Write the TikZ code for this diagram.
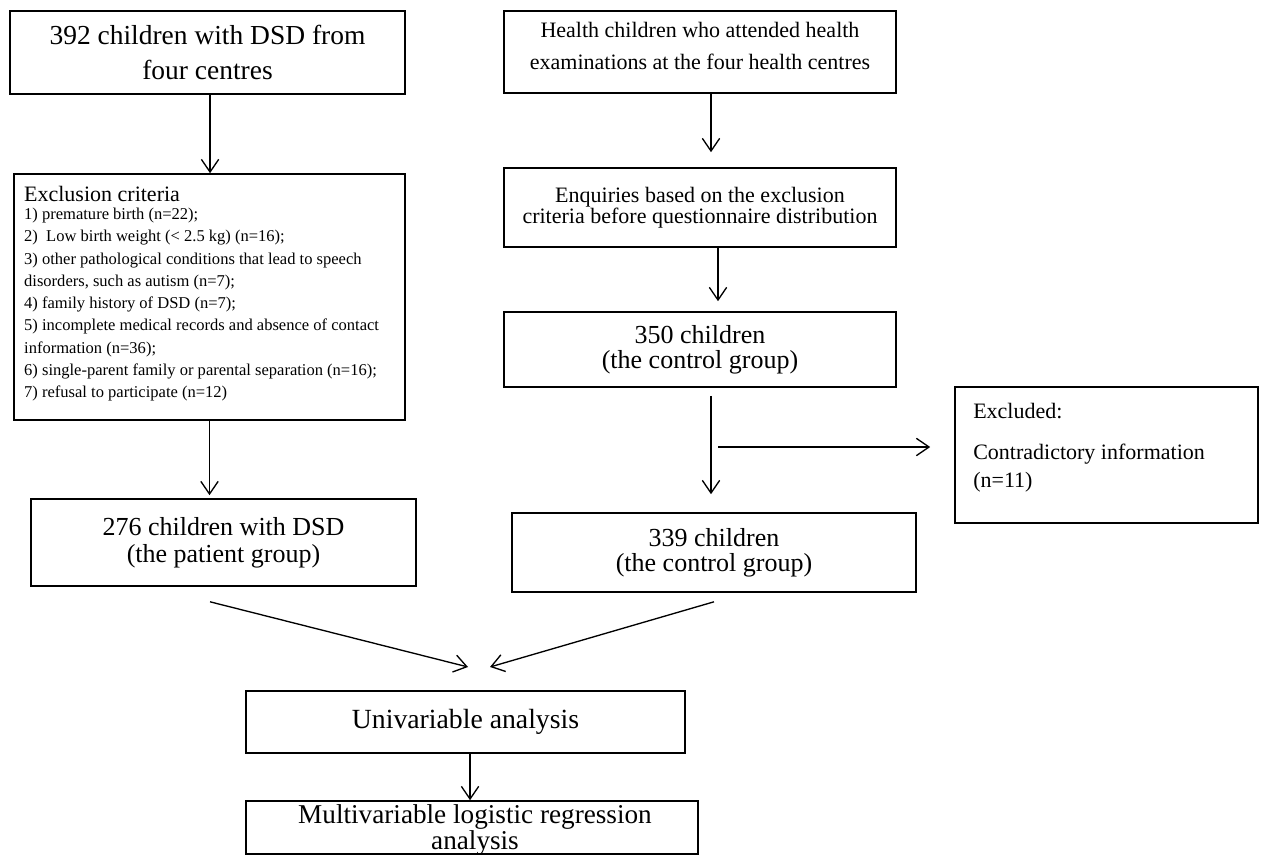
\documentclass[tikz,border=0pt]{standalone}
\usepackage{fontspec}
\setmainfont{Liberation Serif}
\usetikzlibrary{arrows.meta}

\tikzset{
  box/.style={draw, line width=1.2pt, inner sep=0pt, align=center},
  arr/.style={line width=1pt, -{Straight Barb[length=9.5pt,width=13pt,line width=1pt]}},
}
\newcommand{\midtxt}{\fontsize{16.5}{24.5}\selectfont}
\newcommand{\smalltxt}{\fontsize{12.4}{16.7}\selectfont}

\begin{document}
\begin{tikzpicture}[x=0.75pt,y=0.75pt,yscale=-1,xscale=1]
\useasboundingbox (0,0) rectangle (1261,856);

%Shape: Rectangle  (patients)
\node [box, minimum width=296.25pt, minimum height=62.25pt,
       font=\fontsize{20.6}{26}\selectfont] (src) at (207.5,52.5)
  {392 children with DSD from\\four centres};
%Shape: Rectangle  (healthy)
\node [box, minimum width=294pt, minimum height=61.5pt, font=\midtxt] (hlth) at (700,52)
  {Health children who attended health\\examinations at the four health centres\\[-15.5pt]\mbox{}};

%Shape: Rectangle  (exclusion list)
\node [box, minimum width=293.25pt, minimum height=184.5pt, align=flush left,
       text width=278pt, inner xsep=7.5pt, font=\smalltxt] (excl) at (209.5,297)
  {{\fontsize{16.5}{16.7}\selectfont Exclusion criteria}\\[-3pt]
   1) premature birth (n=22);\\
   2)\ \ Low birth weight (< 2.5 kg) (n=16);\\
   3) other pathological conditions that lead to speech\\
   disorders, such as autism (n=7);\\
   4) family history of DSD (n=7);\\
   5) incomplete medical records and absence of contact\\
   information (n=36);\\
   6) single-parent family or parental separation (n=16);\\
   7) refusal to participate (n=12)\\[-9pt]\mbox{}};
%Shape: Rectangle  (enquiries)
\node [box, minimum width=294pt, minimum height=59.25pt,
       font=\fontsize{16.5}{15}\selectfont] (enq) at (700,207.5)
  {Enquiries based on the exclusion\\criteria before questionnaire distribution};

%Shape: Rectangle  (350)
\node [box, minimum width=294pt, minimum height=56.25pt,
       font=\fontsize{19.5}{19}\selectfont] (ctl) at (700,349.5)
  {350 children\\(the control group)};
%Shape: Rectangle  (excluded)
\node [box, minimum width=227.25pt, minimum height=102pt] (drop) at (1106.5,455) {};
% Text Node
\node [anchor=north west, inner sep=0pt, align=left,
       font=\fontsize{16.5}{21}\selectfont] (droptxt) at (973,403)
  {Excluded:\\[9.75pt]Contradictory information\\(n=11)};

%Shape: Rectangle  (patient group)
\node [box, minimum width=288.75pt, minimum height=65.25pt,
       font=\fontsize{19.5}{20}\selectfont] (pat) at (223.5,542.5)
  {276 children with DSD\\(the patient group)};
%Shape: Rectangle  (339)
\node [box, minimum width=303pt, minimum height=59.25pt,
       font=\fontsize{19.5}{19}\selectfont] (ctl2) at (714,552.5)
  {339 children\\(the control group)};

%Shape: Rectangle  (univariable)
\node [box, minimum width=329.25pt, minimum height=46.5pt,
       font=\fontsize{20.8}{25}\selectfont] (uni) at (465.5,722)
  {Univariable analysis};
%Shape: Rectangle  (multivariable)
\node [box, minimum width=339pt, minimum height=39.75pt] (multi) at (472,827.5) {};
% Text Node
\node [inner sep=0pt, align=center,
       font=\fontsize{20.4}{15.75}\selectfont] (multitxt) at (475,830)
  {Multivariable logistic regression\\analysis};

%Straight Lines  (arrows)
\draw [arr] ([xshift=1.9pt]src.south) -- ([xshift=1.9pt]src.south |- excl.north);
\draw [arr] (excl.south) -- ([yshift=-2.25pt]excl.south |- pat.north);
\draw [arr] ([xshift=8.25pt]hlth.south) -- ([xshift=8.25pt,yshift=-11.25pt]hlth.south |- enq.north);
\draw [arr] ([xshift=13.5pt]enq.south) -- ([xshift=13.5pt,yshift=-7.5pt]enq.south |- ctl.north);
\draw [arr] ([xshift=8.25pt,yshift=6pt]ctl.south) -- ([xshift=8.25pt,yshift=-13.5pt]ctl.south |- ctl2.north);

\coordinate (split) at (718,447);
\draw [arr] (split) -- ([xshift=-18pt]split -| drop.west);

\coordinate (mergeL) at (468,667);
\coordinate (mergeR) at (490,667);
\draw [arr] ([xshift=-10.1pt,yshift=11.25pt]pat.south) -- (mergeL);
\draw [arr] ([yshift=6.75pt]ctl2.south) -- (mergeR);

\draw [arr] ([xshift=3.4pt]uni.south) -- ([xshift=3.4pt]uni.south |- multi.north);

\end{tikzpicture}
\end{document}
